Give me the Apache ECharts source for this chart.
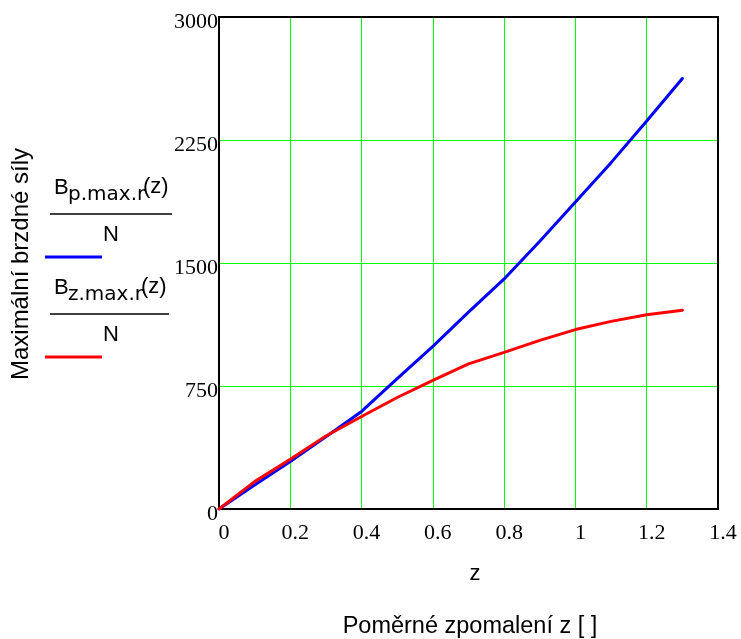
<!DOCTYPE html>
<html>
<head>
<meta charset="utf-8">
<script src="https://cdn.jsdelivr.net/npm/echarts@6/dist/echarts.min.js"></script>
<style>html,body{margin:0;padding:0;background:#fff}#c{width:741px;height:639px}</style>
</head>
<body>
<div id="c"></div>
<script>
var zValues = [0, 0.1, 0.2, 0.3, 0.4, 0.5, 0.6, 0.7, 0.8, 0.9, 1.0, 1.1, 1.2, 1.3];
var bpValues = [0, 147, 290, 440, 595, 795, 992, 1200, 1403, 1633, 1872, 2112, 2366, 2625];
var bzValues = [0, 167, 304, 445, 564, 680, 784, 885, 955, 1028, 1094, 1144, 1185, 1212];
var xTicks = [0, 0.2, 0.4, 0.6, 0.8, 1, 1.2, 1.4];
var yTicks = [0, 750, 1500, 2250, 3000];
var yTitle = 'Maximální brzdné síly';
var xName = 'z';
var xTitle = 'Poměrné zpomalení z [ ]';
var legendB = 'B';
var legendSubs = ['p.max.r', 'z.max.r'];
var legendArg = '(z)';
var legendDen = 'N';

function pairs(xs, ys) { return xs.map(function (x, i) { return [x, ys[i]]; }); }

var chart = echarts.init(document.getElementById('c'), null, {renderer: 'canvas'});
var sans = 'Liberation Sans, Arial, sans-serif';
var serif = 'Liberation Serif, Times New Roman, serif';

function legendEntry(dy, sub, argX, lineRight, color) {
  return [
    {type: 'text', x: 54, y: 187.5 + dy, style: {text: legendB, font: '22px ' + sans, fill: '#000', verticalAlign: 'middle'}},
    {type: 'text', x: 68, y: 195 + dy, style: {text: sub, font: '20px DejaVu Sans, sans-serif', fill: '#000', verticalAlign: 'middle'}},
    {type: 'text', x: argX, y: 186.5 + dy, style: {text: legendArg, font: '22px ' + sans, fill: '#000', verticalAlign: 'middle'}},
    {type: 'line', shape: {x1: 50, y1: 214 + dy, x2: lineRight, y2: 214 + dy}, style: {stroke: '#000', lineWidth: 1.5}},
    {type: 'text', x: 103, y: 235 + dy, style: {text: legendDen, font: '22px ' + sans, fill: '#000', verticalAlign: 'middle'}},
    {type: 'line', shape: {x1: 45, y1: 257 + dy, x2: 102, y2: 257 + dy}, style: {stroke: color, lineWidth: 3}}
  ];
}

var graphics = [].concat(
  legendEntry(0, legendSubs[0], 143, 172, '#0000ff'),
  legendEntry(100, legendSubs[1], 141, 169, '#ff0000'),
  [
    {type: 'text', x: 21, y: 264, rotation: Math.PI / 2, style: {text: yTitle, font: '24px ' + sans, fill: '#000', align: 'center', verticalAlign: 'middle'}},
    {type: 'text', x: 475, y: 573.5, style: {text: xName, font: '22px ' + sans, fill: '#000', align: 'center', verticalAlign: 'middle'}},
    {type: 'text', x: 470, y: 627, style: {text: xTitle, font: '23.5px ' + sans, fill: '#000', align: 'center', verticalAlign: 'middle'}}
  ]
);

chart.setOption({
  backgroundColor: '#fff',
  animation: false,
  grid: {left: 219, right: 23, top: 17, bottom: 130, show: true, borderColor: '#000', borderWidth: 2, backgroundColor: 'transparent', z: 2},
  xAxis: {
    type: 'value', min: xTicks[0], max: xTicks[xTicks.length - 1], interval: 0.2, z: 0,
    axisLine: {show: true, lineStyle: {color: '#000', width: 2}},
    axisTick: {show: false},
    splitLine: {show: true, lineStyle: {color: '#00ff00', width: 1}},
    axisLabel: {
      margin: 13, fontFamily: serif, fontSize: 22, color: '#000', padding: [0, 0, 0, 10],
      formatter: function (v) { return String(Math.round(v * 10) / 10); }
    }
  },
  yAxis: {
    type: 'value', min: yTicks[0], max: yTicks[yTicks.length - 1], interval: 750, z: 0,
    axisLine: {show: true, lineStyle: {color: '#000', width: 2}},
    axisTick: {show: false},
    splitLine: {show: true, lineStyle: {color: '#00ff00', width: 1, opacity: 1}},
    axisLabel: {
      margin: 1, fontFamily: serif, fontSize: 22, color: '#000', verticalAlign: 'top', lineHeight: 10,
      formatter: function (v) { return String(v); }
    }
  },
  series: [
    {type: 'line', data: pairs(zValues, bpValues), showSymbol: false, smooth: false, lineStyle: {color: '#0000ff', width: 3, cap: 'round'}, z: 3},
    {type: 'line', data: pairs(zValues, bzValues), showSymbol: false, smooth: false, lineStyle: {color: '#ff0000', width: 3, cap: 'round'}, z: 4}
  ],
  graphic: graphics
});
</script>
</body>
</html>
